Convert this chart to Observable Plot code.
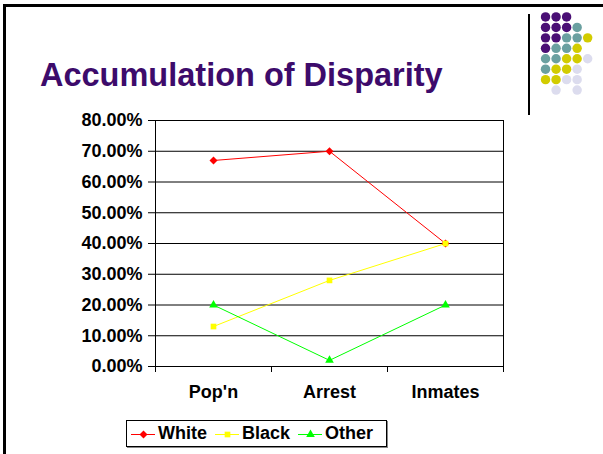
<!DOCTYPE html>
<html>
<head>
<meta charset="utf-8">
<script src="https://cdn.jsdelivr.net/npm/d3@7"></script>
<script src="https://cdn.jsdelivr.net/npm/@observablehq/plot@0.6"></script>
<style>
  html, body { margin: 0; padding: 0; background: #fff; }
  #page { position: relative; width: 603px; height: 454px; overflow: hidden; font-family: "Liberation Sans", Arial, sans-serif; }
  #frame { position: absolute; left: 3px; top: 4px; width: 700px; height: 447px; border-left: 3px solid #000; border-top: 3px solid #000; border-bottom: 1px solid #c8c8c8; }
  #title { position: absolute; left: 40px; top: 55px; font-size: 32.5px; font-weight: bold; color: #3d0b6b; white-space: nowrap; line-height: 40px; }
  #vline { position: absolute; left: 528px; top: 14px; width: 2px; height: 101px; background: #000; }
  #dots { position: absolute; left: 534px; top: 5px; }
  #chart { position: absolute; left: 0; top: 110px; }
  #legend { position: absolute; left: 126px; top: 420px; width: 255px; height: 25px; border: 1px solid #000; box-shadow: 1px 1px 0 #888; background: #fff; display: flex; align-items: center; padding-left: 4px; box-sizing: content-box; }
  .item { display: flex; align-items: center; font-size: 18px; font-weight: bold; margin-right: 8px; }
  .item svg { margin-right: 3px; }
</style>
</head>
<body>
<div id="page">
  <div id="frame"></div>
  <div id="title">Accumulation of Disparity</div>
  <div id="vline"></div>
  <div id="dots"></div>
  <div id="chart"></div>
  <div id="legend"></div>
</div>
<script>
const categories = ["Pop'n", "Arrest", "Inmates"];
const seriesNames = ["White", "Black", "Other"];
const seriesColors = ["#ff0000", "#ffff00", "#00ff00"];
const whiteValues = [0.67, 0.70, 0.40];
const blackValues = [0.13, 0.28, 0.40];
const otherValues = [0.20, 0.02, 0.20];
const yTicks = [0, 0.1, 0.2, 0.3, 0.4, 0.5, 0.6, 0.7, 0.8];

// decorative dot grid (row strings: P purple, T teal, Y yellow, L lavender)
const dotRows = ["PPP..", "PPPT.", "PPTTY", "PTTY.", "TTYYL", "TYYL.", "YYLL.", ".L.L."];
const dotColors = {P: "#4a0f75", T: "#6aa0a0", Y: "#d2cc00", L: "#dcdcee"};

// square rotated 45 degrees (Excel-style diamond marker)
const rhombus = {
  draw(ctx, size) {
    const r = Math.sqrt(size / 2);
    ctx.moveTo(0, -r); ctx.lineTo(r, 0); ctx.lineTo(0, r); ctx.lineTo(-r, 0); ctx.closePath();
  }
};
const seriesSymbols = [rhombus, "square", "triangle"];

const valuesBySeries = [whiteValues, blackValues, otherValues];
const data = [];
seriesNames.forEach((s, si) => {
  categories.forEach((c, ci) => {
    data.push({series: s, idx: ci, value: valuesBySeries[si][ci]});
  });
});
const boundaries = d3.range(categories.length + 1).map(i => i - 0.5);

const chart = Plot.plot({
  width: 520,
  height: 300,
  marginLeft: 155,
  marginRight: 17,
  marginTop: 10,
  marginBottom: 44,
  style: {fontFamily: "'Liberation Sans', Arial, sans-serif", fontWeight: "bold", fontSize: "18px", color: "#000", background: "transparent", overflow: "visible"},
  x: {domain: [-0.5, categories.length - 0.5]},
  y: {domain: [0, 0.8]},
  color: {domain: seriesNames, range: seriesColors},
  symbol: {domain: seriesNames, range: seriesSymbols},
  marks: [
    Plot.gridY(yTicks, {stroke: "#000", strokeOpacity: 1, strokeWidth: 1}),
    Plot.frame({stroke: "#000", strokeWidth: 1}),
    Plot.axisY(yTicks, {tickFormat: d3.format(".2%"), tickSize: 7, tickPadding: 6, label: null, fontSize: 18, fontWeight: "bold", stroke: "#000"}),
    Plot.axisX(boundaries, {tickSize: 6, tickFormat: () => "", label: null, stroke: "#000"}),
    Plot.axisX(d3.range(categories.length), {tickSize: 0, tickPadding: 19, tickFormat: i => categories[i], label: null, fontSize: 18, fontWeight: "bold"}),
    Plot.line(data, {x: "idx", y: "value", z: "series", stroke: "series", strokeWidth: 1}),
    Plot.dot(data, {x: "idx", y: "value", fill: "series", symbol: "series", r: 3.2, stroke: "none"})
  ]
});
document.getElementById("chart").appendChild(chart);

// dot grid decoration via Plot
const dotData = [];
dotRows.forEach((row, r) => row.split("").forEach((ch, c) => {
  if (ch !== ".") dotData.push({c, r, k: ch});
}));
const dots = Plot.plot({
  width: 73, height: 105, margin: 0,
  x: {domain: [-1.05, 5.5], axis: null},
  y: {domain: [-1.1, 8.4], reverse: true, axis: null},
  style: {background: "transparent"},
  marks: [
    Plot.dot(dotData, {x: "c", y: "r", r: 5, fill: d => dotColors[d.k], stroke: "none"})
  ]
});
document.getElementById("dots").appendChild(dots);

// legend
const legend = document.getElementById("legend");
seriesNames.forEach((s, i) => {
  const item = document.createElement("div");
  item.className = "item";
  const sw = Plot.plot({
    width: 24, height: 14, margin: 0,
    x: {domain: [0, 1], axis: null}, y: {domain: [0, 1], axis: null},
    style: {background: "transparent"},
    marks: [
      Plot.ruleY([0.5], {x1: 0, x2: 1, stroke: seriesColors[i], strokeWidth: 1}),
      Plot.dot([0.5], {x: 0.5, y: 0.5, fill: seriesColors[i], symbol: seriesSymbols[i], r: 3.2})
    ]
  });
  item.appendChild(sw);
  const t = document.createElement("span");
  t.textContent = s;
  item.appendChild(t);
  legend.appendChild(item);
});
</script>
</body>
</html>
